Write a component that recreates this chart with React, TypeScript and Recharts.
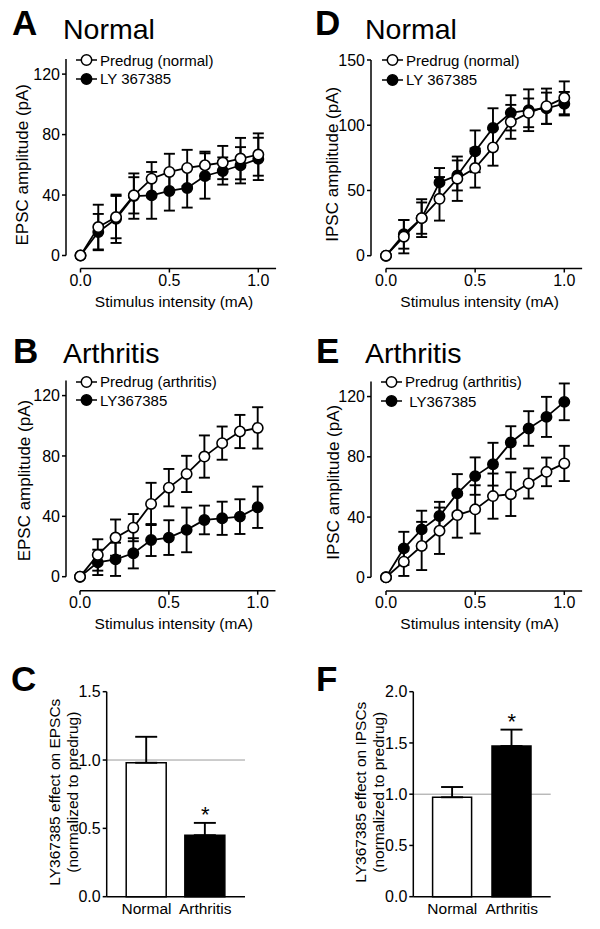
import React from 'react';
import {
  ComposedChart,
  BarChart,
  Line,
  Bar,
  Cell,
  XAxis,
  YAxis,
  ErrorBar,
  ReferenceLine,
  ReferenceDot,
  Legend,
} from 'recharts';

const FONT = '"Liberation Sans", Arial, Helvetica, sans-serif';

const INTENSITY = [0, 0.1, 0.2, 0.3, 0.4, 0.5, 0.6, 0.7, 0.8, 0.9, 1.0];
const X_TICKS = [0, 0.5, 1.0];

// A - EPSC, normal
const EPSC_NORMAL_PRE = [0, 18.8, 25.4, 39.8, 50.8, 55.3, 57.9, 59.7, 61.5, 64.1, 66.8];
const EPSC_NORMAL_PRE_SEM = [0, 14.8, 14, 12, 11, 12, 12, 9, 11, 13.7, 14];
const EPSC_NORMAL_LY = [0, 15.5, 24.3, 39.3, 39.8, 42.7, 44.7, 52.6, 55.9, 59.7, 63.9];
const EPSC_NORMAL_LY_SEM = [0, 12, 16, 15, 15.5, 13, 13, 15, 9, 12, 14];

// B - EPSC, arthritis
const EPSC_ARTH_PRE = [0, 14.4, 25.9, 32.5, 48.2, 59, 68.1, 79.6, 88.5, 96.2, 98.6];
const EPSC_ARTH_PRE_SEM = [0, 10.4, 12, 9, 14, 12.4, 12, 14, 11, 11, 13.7];
const EPSC_ARTH_LY = [0, 9.5, 11.5, 15.5, 24.3, 25.9, 31, 37.6, 38.7, 39.8, 46];
const EPSC_ARTH_LY_SEM = [0, 8.4, 11, 10, 10.6, 11.5, 14.8, 9.5, 11, 11.5, 13.7];

// D - IPSC, normal
const IPSC_NORMAL_PRE = [0, 14.6, 28.8, 43.6, 59, 67.2, 83, 102.6, 109.5, 114.6, 121];
const IPSC_NORMAL_PRE_SEM = [0, 12.8, 14.5, 16.7, 17, 15, 14, 13, 11, 13.5, 12.6];
const IPSC_NORMAL_LY = [0, 16.4, 28.8, 56.2, 61.5, 80, 98, 109.5, 111.5, 113, 116.5];
const IPSC_NORMAL_LY_SEM = [0, 11, 12, 11, 11.5, 16, 15, 13.5, 16, 12, 9];

// E - IPSC, arthritis
const IPSC_ARTH_PRE = [0, 10.4, 20.8, 30.9, 41.3, 45.1, 53.9, 55.2, 62.3, 70, 75.6];
const IPSC_ARTH_PRE_SEM = [0, 9.5, 16, 15.4, 15, 16, 15, 14.5, 10, 9.5, 11.7];
const IPSC_ARTH_LY = [0, 19.2, 31.8, 40.7, 55.7, 67.2, 75.1, 89.5, 98.8, 106.5, 116.5];
const IPSC_ARTH_LY_SEM = [0, 11, 12.4, 9.4, 12.8, 12.4, 14.2, 10.8, 11.5, 13.3, 12.2];

// C / F - normalized effect
const GROUPS = ['Normal', 'Arthritis'];
const GROUP_FILLS = ['#ffffff', '#000000'];
const EPSC_EFFECT = [0.98, 0.45];
const EPSC_EFFECT_SEM = [0.19, 0.09];
const IPSC_EFFECT = [0.97, 1.47];
const IPSC_EFFECT_SEM = [0.1, 0.16];
const SIGNIFICANT = [false, true];

const YW = 60; // y axis box width
const XH = 42; // x axis box height
const TICK_FONT = 16;

const fmt1 = (v: number) => v.toFixed(1);

const RotatedLabel = (props: any) => {
  const { viewBox, lines, dist, dy = 0, fontSize = 17, gap = 18 } = props;
  const cx = viewBox.x + viewBox.width - dist;
  const cy = viewBox.y + viewBox.height / 2 + dy;
  return (
    <text
      x={cx}
      y={cy}
      transform={`rotate(-90 ${cx} ${cy})`}
      textAnchor="middle"
      fontFamily={FONT}
      fontSize={fontSize}
      fill="#000"
    >
      {lines.map((l: string, i: number) => (
        <tspan key={i} x={cx} dy={i === 0 ? 0 : gap}>
          {l}
        </tspan>
      ))}
    </text>
  );
};

const SeriesLegend = ({ items, rowH }: { items: { name: string; fill: string }[]; rowH: number }) => (
  <div style={{ fontFamily: FONT, fontSize: 15, color: '#000', whiteSpace: 'nowrap' }}>
    {items.map((it) => (
      <div key={it.name} style={{ display: 'flex', alignItems: 'center', height: rowH }}>
        <svg width={24} height={14} style={{ display: 'block' }}>
          <line x1={0} y1={7} x2={21} y2={7} stroke="#000" strokeWidth={1.5} />
          <circle cx={10.5} cy={7} r={5.2} fill={it.fill} stroke="#000" strokeWidth={1.5} />
        </svg>
        <span>{it.name}</span>
      </div>
    ))}
  </div>
);

interface CurveProps {
  left: number;
  top: number;
  axisX: number;
  x0: number;
  x1: number;
  axisY: number;
  y0: number;
  yTop: number;
  yMax: number;
  yTicks: number[];
  yLabel: string;
  labelDist: number;
  labelDy: number;
  pre: number[];
  preSem: number[];
  ly: number[];
  lySem: number[];
  preName: string;
  lyName: string;
  legendX: number;
  legendY: number;
  legendRow: number;
}

function CurvePanel(p: CurveProps) {
  const W = 300;
  const pxX = p.x1 - p.x0;
  const xMin = -(p.x0 - p.axisX) / pxX;
  const xMax = 1.1;
  const plotW = (xMax - xMin) * pxX;
  const pxY = (p.y0 - p.yTop) / p.yMax;
  const yMin = -(p.axisY - p.y0) / pxY;
  const plotH = p.axisY - p.yTop;
  const margin = {
    top: p.yTop - p.top,
    left: p.axisX - p.left - YW,
    right: W - (p.axisX - p.left) - plotW,
    bottom: 0,
  };
  const H = margin.top + plotH + XH;

  const rows = INTENSITY.map((x, i) => ({
    x,
    pre: p.pre[i],
    preSem: p.preSem[i],
    ly: p.ly[i],
    lySem: p.lySem[i],
  }));

  const tickStyle = { fill: '#000', fontSize: TICK_FONT, fontFamily: FONT };
  const tickLine = { stroke: '#000', strokeWidth: 1.5 };

  return (
    <div style={{ position: 'absolute', left: p.left, top: p.top }}>
      <ComposedChart width={W} height={H} data={rows} margin={margin}>
        <XAxis
          type="number"
          dataKey="x"
          domain={[xMin, xMax]}
          ticks={X_TICKS}
          interval={0}
          tickFormatter={fmt1}
          axisLine={false}
          tickLine={tickLine}
          tickSize={4}
          tickMargin={2}
          tick={tickStyle}
          height={XH}
          label={{
            value: 'Stimulus intensity (mA)',
            position: 'insideBottom',
            offset: 4,
            dx: 3,
            fill: '#000',
            fontSize: 15.5,
            fontFamily: FONT,
          }}
        />
        <YAxis
          type="number"
          domain={[yMin, p.yMax]}
          ticks={p.yTicks}
          interval={0}
          axisLine={false}
          tickLine={tickLine}
          tickSize={4}
          tickMargin={2}
          tick={tickStyle}
          width={YW}
          label={(lp: any) => (
            <RotatedLabel {...lp} lines={[p.yLabel]} dist={p.labelDist} dy={p.labelDy} />
          )}
        />
        <ReferenceLine
          segment={[{ x: xMin, y: 0 }, { x: xMin, y: p.yMax }]}
          stroke="#000"
          strokeWidth={1.5}
          ifOverflow="visible"
        />
        <ReferenceLine
          segment={[{ x: 0, y: yMin }, { x: xMax, y: yMin }]}
          stroke="#000"
          strokeWidth={1.5}
          ifOverflow="visible"
        />
        <Legend
          layout="horizontal"
          verticalAlign="middle"
          align="center"
          wrapperStyle={{ left: p.legendX - p.left, top: p.legendY - p.top - p.legendRow / 2, width: 'auto' }}
          content={() => (
            <SeriesLegend
              rowH={p.legendRow}
              items={[
                { name: p.preName, fill: '#fff' },
                { name: p.lyName, fill: '#000' },
              ]}
            />
          )}
        />
        <Line
          dataKey="ly"
          name={p.lyName}
          stroke="#000"
          strokeWidth={1.8}
          dot={{ r: 5.2, fill: '#000', stroke: '#000', strokeWidth: 1.5 }}
          activeDot={false}
          isAnimationActive={false}
        >
          <ErrorBar dataKey="lySem" width={5.5} stroke="#000" strokeWidth={1.9} direction="y" />
        </Line>
        <Line
          dataKey="pre"
          name={p.preName}
          stroke="#000"
          strokeWidth={1.8}
          dot={{ r: 5.2, fill: '#fff', stroke: '#000', strokeWidth: 1.6 }}
          activeDot={false}
          isAnimationActive={false}
        >
          <ErrorBar dataKey="preSem" width={5.5} stroke="#000" strokeWidth={1.9} direction="y" />
        </Line>
      </ComposedChart>
    </div>
  );
}

interface EffectProps {
  left: number;
  top: number;
  axisX: number;
  axisRight: number;
  yTop: number;
  y0: number;
  yMax: number;
  yTicks: number[];
  values: number[];
  sems: number[];
  lines: string[];
  labelDist: number;
  barSize: number;
  pad: number;
}

function EffectPanel(p: EffectProps) {
  const W = 300;
  const BXH = 30;
  const plotH = p.y0 - p.yTop;
  const margin = {
    top: p.yTop - p.top,
    left: p.axisX - p.left - YW,
    right: W - (p.axisRight - p.left),
    bottom: 0,
  };
  const H = margin.top + plotH + BXH;
  const rows = GROUPS.map((g, i) => ({
    group: g,
    value: p.values[i],
    err: [0, p.sems[i]],
  }));
  const tickStyle = { fill: '#000', fontSize: TICK_FONT, fontFamily: FONT };

  return (
    <div style={{ position: 'absolute', left: p.left, top: p.top }}>
      <BarChart width={W} height={H} data={rows} margin={margin} barSize={p.barSize}>
        <XAxis
          dataKey="group"
          type="category"
          padding={{ left: p.pad, right: p.pad }}
          axisLine={{ stroke: '#000', strokeWidth: 1.5 }}
          tickLine={false}
          tickSize={0}
          tickMargin={6}
          tick={{ fill: '#000', fontSize: 15.5, fontFamily: FONT }}
          height={BXH}
        />
        <YAxis
          type="number"
          domain={[0, p.yMax]}
          ticks={p.yTicks}
          interval={0}
          tickFormatter={fmt1}
          axisLine={{ stroke: '#000', strokeWidth: 1.5 }}
          tickLine={{ stroke: '#000', strokeWidth: 1.5 }}
          tickSize={4}
          tickMargin={2}
          tick={tickStyle}
          width={YW}
          label={(lp: any) => (
            <RotatedLabel {...lp} lines={p.lines} dist={p.labelDist} dy={-2} fontSize={15.5} gap={18} />
          )}
        />
        <ReferenceLine y={1} stroke="#9a9a9a" strokeWidth={1} zIndex={-10} />
        <Bar dataKey="value" stroke="#000" strokeWidth={1.5} isAnimationActive={false}>
          {rows.map((r, i) => (
            <Cell key={r.group} fill={GROUP_FILLS[i]} />
          ))}
          <ErrorBar dataKey="err" width={11} stroke="#000" strokeWidth={1.9} direction="y" />
        </Bar>
        {GROUPS.map((g, i) =>
          SIGNIFICANT[i] ? (
            <ReferenceDot
              key={g}
              x={g}
              y={p.values[i] + p.sems[i]}
              r={1}
              fill="none"
              stroke="none"
              label={{ value: '*', position: 'top', offset: 0, fill: '#000', fontSize: 22, fontFamily: FONT }}
            />
          ) : null
        )}
      </BarChart>
    </div>
  );
}

const TITLES = [
  { letter: 'A', word: 'Normal', lx: 12, wx: 63, ly: 35, wy: 39 },
  { letter: 'D', word: 'Normal', lx: 315, wx: 365, ly: 35, wy: 39 },
  { letter: 'B', word: 'Arthritis', lx: 13, wx: 63, ly: 363, wy: 363 },
  { letter: 'E', word: 'Arthritis', lx: 316, wx: 365, ly: 363, wy: 363 },
  { letter: 'C', word: '', lx: 11, wx: 0, ly: 691, wy: 0 },
  { letter: 'F', word: '', lx: 316, wx: 0, ly: 691, wy: 0 },
];

export default function App() {
  return (
    <div
      style={{
        position: 'absolute',
        left: 0,
        top: 0,
        width: 600,
        height: 929,
        background: '#fff',
        overflow: 'hidden',
      }}
    >
      <CurvePanel
        left={0}
        top={0}
        axisX={66}
        x0={80.5}
        x1={258.3}
        axisY={268.5}
        y0={255.5}
        yTop={59}
        yMax={130}
        yTicks={[0, 40, 80, 120]}
        yLabel="EPSC amplitude (pA)"
        labelDist={38.5}
        labelDy={1}
        pre={EPSC_NORMAL_PRE}
        preSem={EPSC_NORMAL_PRE_SEM}
        ly={EPSC_NORMAL_LY}
        lySem={EPSC_NORMAL_LY_SEM}
        preName="Predrug (normal)"
        lyName="LY 367385"
        legendX={76}
        legendY={60}
        legendRow={18.5}
      />
      <CurvePanel
        left={300}
        top={0}
        axisX={371}
        x0={386}
        x1={564.3}
        axisY={268.5}
        y0={255.7}
        yTop={60}
        yMax={150}
        yTicks={[0, 50, 100, 150]}
        yLabel="IPSC amplitude (pA)"
        labelDist={33}
        labelDy={0}
        pre={IPSC_NORMAL_PRE}
        preSem={IPSC_NORMAL_PRE_SEM}
        ly={IPSC_NORMAL_LY}
        lySem={IPSC_NORMAL_LY_SEM}
        preName="Predrug (normal)"
        lyName="LY 367385"
        legendX={382}
        legendY={60}
        legendRow={19.5}
      />
      <CurvePanel
        left={0}
        top={320}
        axisX={66}
        x0={80}
        x1={257.7}
        axisY={590.7}
        y0={576.7}
        yTop={380.5}
        yMax={130}
        yTicks={[0, 40, 80, 120]}
        yLabel="EPSC amplitude (pA)"
        labelDist={36}
        labelDy={-5}
        pre={EPSC_ARTH_PRE}
        preSem={EPSC_ARTH_PRE_SEM}
        ly={EPSC_ARTH_LY}
        lySem={EPSC_ARTH_LY_SEM}
        preName="Predrug (arthritis)"
        lyName="LY367385"
        legendX={76}
        legendY={381.7}
        legendRow={18.5}
      />
      <CurvePanel
        left={300}
        top={320}
        axisX={371}
        x0={386}
        x1={564.3}
        axisY={591}
        y0={577.3}
        yTop={381.5}
        yMax={130}
        yTicks={[0, 40, 80, 120]}
        yLabel="IPSC amplitude (pA)"
        labelDist={32}
        labelDy={-4}
        pre={IPSC_ARTH_PRE}
        preSem={IPSC_ARTH_PRE_SEM}
        ly={IPSC_ARTH_LY}
        lySem={IPSC_ARTH_LY_SEM}
        preName="Predrug (arthritis)"
        lyName={'\u00a0LY367385'}
        legendX={381}
        legendY={381.7}
        legendRow={19.5}
      />
      <EffectPanel
        left={0}
        top={640}
        axisX={106.7}
        axisRight={245}
        yTop={691.7}
        y0={896.7}
        yMax={1.5}
        yTicks={[0, 0.5, 1.0, 1.5]}
        values={EPSC_EFFECT}
        sems={EPSC_EFFECT_SEM}
        lines={['LY367385 effect on EPSCs', '(normalized to predrug)']}
        labelDist={46.5}
        barSize={40}
        pad={10.5}
      />
      <EffectPanel
        left={300}
        top={640}
        axisX={413.3}
        axisRight={550.7}
        yTop={691.7}
        y0={896.7}
        yMax={2.0}
        yTicks={[0, 0.5, 1.0, 1.5, 2.0]}
        values={IPSC_EFFECT}
        sems={IPSC_EFFECT_SEM}
        lines={['LY367385 effect on IPSCs', '(normalized to predrug)']}
        labelDist={47.3}
        barSize={39}
        pad={9.3}
      />
      <svg
        width={600}
        height={929}
        style={{ position: 'absolute', left: 0, top: 0, pointerEvents: 'none' }}
      >
        {TITLES.map((t) => (
          <g key={t.letter} fontFamily={FONT} fill="#000">
            <text x={t.lx} y={t.ly} fontSize={35} fontWeight="bold">
              {t.letter}
            </text>
            {t.word ? (
              <text x={t.wx} y={t.wy} fontSize={28.5}>
                {t.word}
              </text>
            ) : null}
          </g>
        ))}
      </svg>
    </div>
  );
}
